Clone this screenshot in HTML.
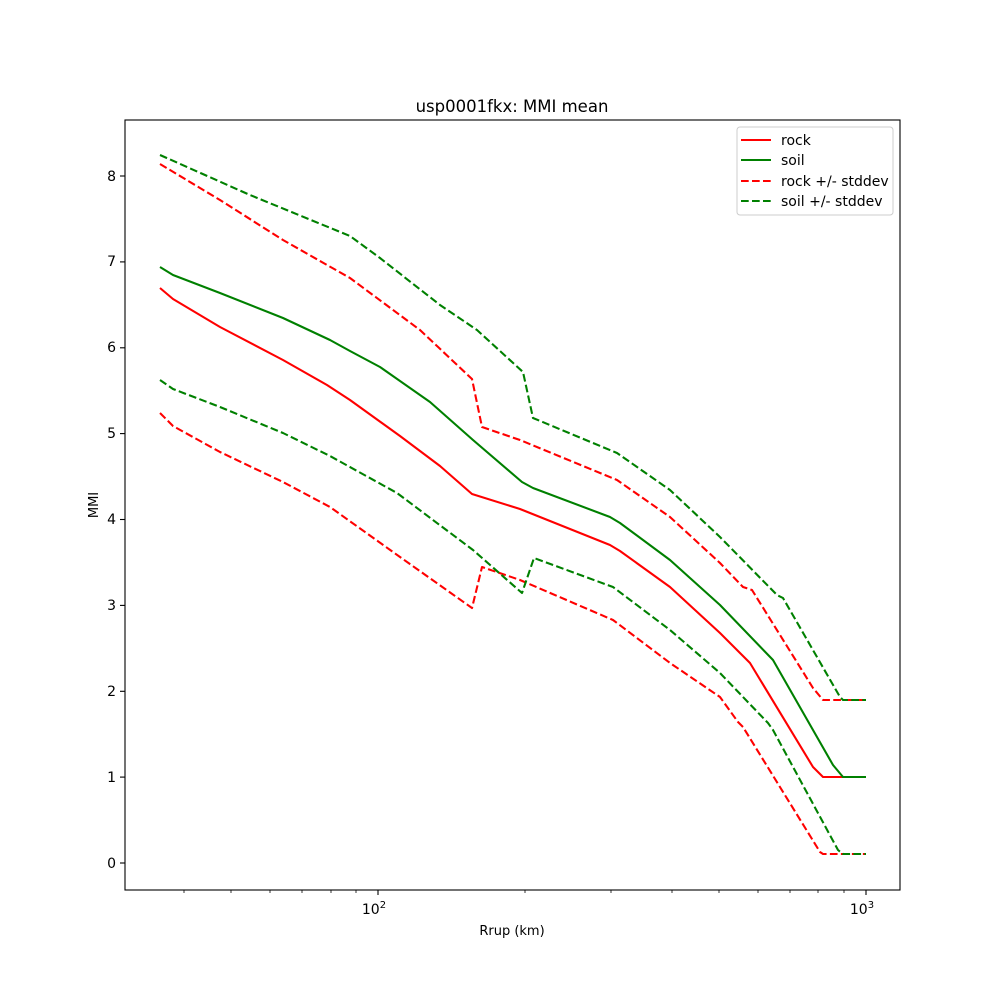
<!DOCTYPE html>
<html><head><style>body{margin:0;background:#fff}svg{display:block}text{font-family:"DejaVu Sans","Liberation Sans",sans-serif;fill:#000}</style></head>
<body>
<svg width="1000" height="1000" viewBox="0 0 1000 1000" xmlns="http://www.w3.org/2000/svg">
<rect width="1000" height="1000" fill="#fff"/>
<g fill="none" stroke-width="2.08" stroke-linejoin="round">
<polyline stroke="red" points="160,288 173,299 220,327 283,360 327,385 350,400 400,436 440,466 472,494 520,509 610,545 620,551 670,587 720,633 742,655 750,663 813,767 823,777 866,777"/>
<polyline stroke="green" points="160,267 173,275 220,293 283,318 330,340 350,351 380,367 430,402 473,440 522,482 533,488 610,517 620,523 670,560 720,605 773,660 833,765 843,777 866,777"/>
<g stroke-dasharray="7.7,3.3">
<polyline stroke="red" points="160,164 220,200 283,240 350,278 420,330 472,379 482,427 520,440 617,480 670,517 720,563 743,587 752,590 813,688 823,700 866,700"/>
<polyline stroke="red" points="160,413 173,426 220,452 283,482 330,507 400,557 472,608 482,567 520,580 613,620 670,663 720,697 738,722 743,727 820,852 823,854 866,854"/>
<polyline stroke="green" points="160,155 250,195 350,236 380,258 440,305 477,330 523,372 533,418 617,453 670,490 720,537 777,595 783,598 840,697 843,700 866,700"/>
<polyline stroke="green" points="160,380 173,389 220,407 283,433 330,456 397,493 473,550 522,593 534,558 613,587 670,630 720,673 768,723 773,730 838,850 843,854 866,854"/>
</g>
</g>
<rect x="125" y="120" width="775" height="770" fill="none" stroke="#000" stroke-width="1.1"/>
<g stroke="#000" stroke-width="1.1">
<line x1="378" y1="890" x2="378" y2="895"/><line x1="866" y1="890" x2="866" y2="895"/>
<g stroke-width="0.8">
<line x1="184" y1="890" x2="184" y2="893"/><line x1="231" y1="890" x2="231" y2="893"/><line x1="270" y1="890" x2="270" y2="893"/><line x1="302" y1="890" x2="302" y2="893"/><line x1="331" y1="890" x2="331" y2="893"/><line x1="356" y1="890" x2="356" y2="893"/>
<line x1="525" y1="890" x2="525" y2="893"/><line x1="611" y1="890" x2="611" y2="893"/><line x1="672" y1="890" x2="672" y2="893"/><line x1="719" y1="890" x2="719" y2="893"/><line x1="758" y1="890" x2="758" y2="893"/><line x1="790" y1="890" x2="790" y2="893"/><line x1="818" y1="890" x2="818" y2="893"/><line x1="844" y1="890" x2="844" y2="893"/>
</g>
<line x1="120" y1="863" x2="125" y2="863"/><line x1="120" y1="777.1" x2="125" y2="777.1"/><line x1="120" y1="691.3" x2="125" y2="691.3"/><line x1="120" y1="605.4" x2="125" y2="605.4"/><line x1="120" y1="519.5" x2="125" y2="519.5"/><line x1="120" y1="433.6" x2="125" y2="433.6"/><line x1="120" y1="347.8" x2="125" y2="347.8"/><line x1="120" y1="261.9" x2="125" y2="261.9"/><line x1="120" y1="176" x2="125" y2="176"/>
</g>
<g font-size="14" text-anchor="end">
<text x="116" y="868">0</text><text x="116" y="782">1</text><text x="116" y="696">2</text><text x="116" y="610">3</text><text x="116" y="524">4</text><text x="116" y="438">5</text><text x="116" y="352">6</text><text x="116" y="266">7</text><text x="116" y="181">8</text>
</g>
<text x="374" y="914" font-size="14" text-anchor="middle">10<tspan font-size="10" dy="-6">2</tspan></text>
<text x="862" y="914" font-size="14" text-anchor="middle">10<tspan font-size="10" dy="-6">3</tspan></text>
<text x="512" y="935" font-size="13" text-anchor="middle">Rrup (km)</text>
<text transform="translate(98,505) rotate(-90)" font-size="13" text-anchor="middle">MMI</text>
<text x="512" y="112" font-size="16.5" text-anchor="middle">usp0001fkx: MMI mean</text>
<rect x="737" y="127" width="156" height="88" rx="3" fill="#fff" stroke="#ccc" stroke-width="1"/>
<g stroke-width="2.08">
<line x1="741" y1="140" x2="771" y2="140" stroke="red"/>
<line x1="741" y1="160" x2="771" y2="160" stroke="green"/>
<line x1="741" y1="181" x2="771" y2="181" stroke="red" stroke-dasharray="7.7,3.3"/>
<line x1="741" y1="201" x2="771" y2="201" stroke="green" stroke-dasharray="7.7,3.3"/>
</g>
<g font-size="14">
<text x="781" y="145">rock</text><text x="781" y="165">soil</text><text x="781" y="186">rock +/- stddev</text><text x="781" y="206">soil +/- stddev</text>
</g>
</svg>
</body></html>
